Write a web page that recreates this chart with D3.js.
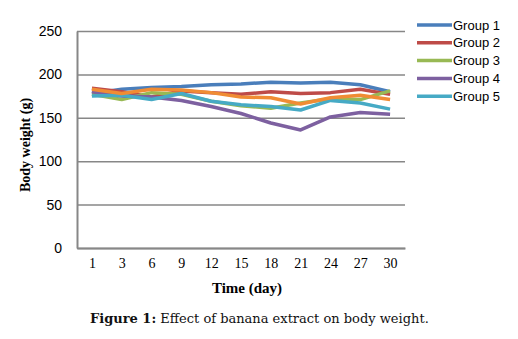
<!DOCTYPE html>
<html>
<head>
<meta charset="utf-8">
<script src="https://cdn.jsdelivr.net/npm/d3@7"></script>
<style>
  body { margin: 0; background: #fff; }
  svg { display: block; }
</style>
</head>
<body>
<svg width="518" height="339"></svg>
<script>
const days = ['1', '3', '6', '9', '12', '15', '18', '21', '24', '27', '30']
const group1 = [178, 183, 185, 186, 188, 189, 191, 190, 191, 188, 180]
const group2 = [184, 180, 174, 181, 179, 177, 180, 178, 179, 183, 177]
const group3 = [177, 171, 179, 177, 169, 164, 161, 167, 172, 171, 181]
const group4 = [180, 175, 174, 170, 163, 155, 144, 136, 151, 156, 154]
const group5 = [175, 176, 171, 178, 169, 165, 163, 159, 170, 167, 160]
const group6 = [183, 178, 183, 182, 179, 174, 173, 166, 173, 176, 171]
const yTicks = [0, 50, 100, 150, 200, 250]

const series = [
  { name: 'Group 1', values: group1, color: '#4a7ebb', legend: true },
  { name: 'Group 2', values: group2, color: '#be4b48', legend: true },
  { name: 'Group 3', values: group3, color: '#98b954', legend: true },
  { name: 'Group 4', values: group4, color: '#7d60a0', legend: true },
  { name: 'Group 5', values: group5, color: '#46aac5', legend: true },
  { name: 'Group 6', values: group6, color: '#f08c34', legend: false }
]

const svg = d3.select('svg')
const margin = { top: 31, left: 77, right: 113, bottom: 91 }
const width = 518 - margin.left - margin.right
const height = 339 - margin.top - margin.bottom

const chart = svg.append('g')
  .attr('transform', `translate(${margin.left}, ${margin.top})`)

const xScale = d3.scalePoint()
  .domain(days)
  .range([0, width])
  .padding(0.5)

const yScale = d3.scaleLinear()
  .domain([0, 250])
  .range([height, 0])

// grid
chart.append('g')
  .call(d3.axisLeft(yScale).tickValues(yTicks).tickSize(-width).tickFormat(''))
  .call(g => g.select('.domain').remove())
  .call(g => g.selectAll('line').attr('stroke', '#878787').attr('stroke-width', 1.5))

// y axis
chart.append('g')
  .call(d3.axisLeft(yScale).tickValues(yTicks).tickSize(0).tickPadding(15))
  .call(g => g.select('.domain').attr('stroke', '#878787').attr('stroke-width', 2))
  .call(g => g.selectAll('text')
    .attr('font-family', 'Liberation Sans, Arial, sans-serif')
    .attr('font-size', 14)
    .attr('fill', '#000'))

// x axis
chart.append('g')
  .attr('transform', `translate(0, ${height})`)
  .call(d3.axisBottom(xScale).tickSize(0).tickPadding(10))
  .call(g => g.select('.domain').attr('stroke', '#878787').attr('stroke-width', 2))
  .call(g => g.selectAll('text')
    .attr('font-family', 'Liberation Serif, Times New Roman, serif')
    .attr('font-size', 14)
    .attr('fill', '#000'))

const line = d3.line()
  .x((d, i) => xScale(days[i]))
  .y(d => yScale(d))

chart.selectAll('.serie')
  .data(series)
  .enter()
  .append('path')
  .attr('class', 'serie')
  .attr('d', d => line(d.values))
  .attr('fill', 'none')
  .attr('stroke', d => d.color)
  .attr('stroke-width', 3.5)
  .attr('stroke-linejoin', 'round')

// legend
const legend = svg.append('g')
  .attr('transform', 'translate(417, 25)')
  .selectAll('g')
  .data(series.filter(s => s.legend))
  .enter()
  .append('g')
  .attr('transform', (d, i) => `translate(0, ${i * 17.8})`)

legend.append('line')
  .attr('x1', 0).attr('x2', 35)
  .attr('stroke', d => d.color)
  .attr('stroke-width', 3.5)

legend.append('text')
  .attr('x', 36)
  .attr('dy', '0.35em')
  .attr('font-family', 'Liberation Sans, Arial, sans-serif')
  .attr('font-size', 13)
  .text(d => d.name)

// titles
svg.append('text')
  .attr('transform', 'translate(25, 145) rotate(-90)')
  .attr('text-anchor', 'middle')
  .attr('dy', '0.35em')
  .attr('font-family', 'Liberation Serif, Times New Roman, serif')
  .attr('font-weight', 'bold')
  .attr('font-size', 14)
  .text('Body weight (g)')

svg.append('text')
  .attr('x', 247)
  .attr('y', 293)
  .attr('text-anchor', 'middle')
  .attr('font-family', 'Liberation Serif, Times New Roman, serif')
  .attr('font-weight', 'bold')
  .attr('font-size', 15)
  .text('Time (day)')

const caption = svg.append('text')
  .attr('x', 90)
  .attr('y', 323)
  .attr('font-family', 'DejaVu Serif, serif')
  .attr('font-size', 13)
  .attr('fill', '#111')
caption.append('tspan').attr('font-weight', 'bold').text('Figure 1:')
caption.append('tspan').text(' Effect of banana extract on body weight.')
</script>
</body>
</html>
